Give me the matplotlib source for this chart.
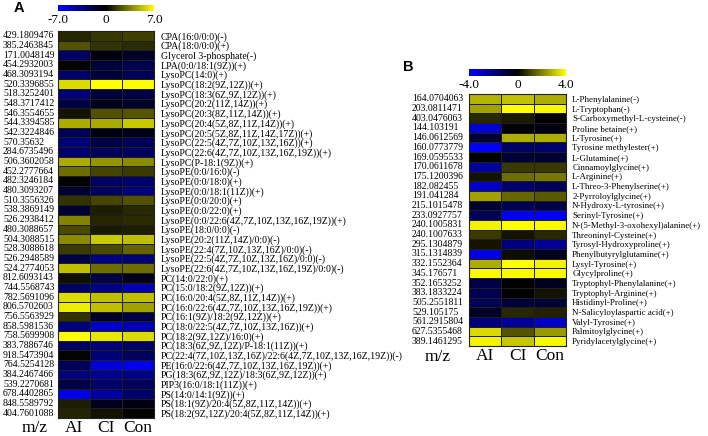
"""Two-panel heatmap of lipid (A) and amino-acid (B) metabolites across AI / CI / Con."""

import numpy as np
import matplotlib
matplotlib.use("Agg")
import matplotlib.pyplot as plt
from matplotlib.colors import LinearSegmentedColormap, Normalize
from matplotlib.cm import ScalarMappable
from matplotlib.transforms import blended_transform_factory

groups = ["AI", "CI", "Con"]

# ---- panel A : lipids ----
mz_a = ["429.1809476", "385.2463845", "171.0048149", "454.2932003", "468.3093194",
        "520.3396855", "518.3252401", "548.3717412", "546.3554655", "544.3394585",
        "542.3224846", "570.35632", "284.6735496", "506.3602058", "452.2777664",
        "482.3246184", "480.3093207", "510.3556326", "538.3869149", "526.2938412",
        "480.3088657", "504.3088515", "528.3088618", "526.2948589", "524.2774053",
        "812.6093143", "744.5568743", "782.5691096", "806.5702603", "756.5563929",
        "858.5981536", "758.5699908", "383.7886746", "918.5473904", "764.5254128",
        "384.2467466", "539.2270681", "678.4402865", "848.5589792", "404.7601088"]
names_a = ["CPA(16:0/0:0)(-)", "CPA(18:0/0:0)(+)", "Glycerol 3-phosphate(-)",
           "LPA(0:0/18:1(9Z))(+)", "LysoPC(14:0)(+)", "LysoPC(18:2(9Z,12Z))(+)",
           "LysoPC(18:3(6Z,9Z,12Z))(+)", "LysoPC(20:2(11Z,14Z))(+)",
           "LysoPC(20:3(8Z,11Z,14Z))(+)", "LysoPC(20:4(5Z,8Z,11Z,14Z))(+)",
           "LysoPC(20:5(5Z,8Z,11Z,14Z,17Z))(+)", "LysoPC(22:5(4Z,7Z,10Z,13Z,16Z))(+)",
           "LysoPC(22:6(4Z,7Z,10Z,13Z,16Z,19Z))(+)", "LysoPC(P-18:1(9Z))(+)",
           "LysoPE(0:0/16:0)(-)", "LysoPE(0:0/18:0)(+)", "LysoPE(0:0/18:1(11Z))(+)",
           "LysoPE(0:0/20:0)(+)", "LysoPE(0:0/22:0)(+)",
           "LysoPE(0:0/22:6(4Z,7Z,10Z,13Z,16Z,19Z))(+)", "LysoPE(18:0/0:0)(-)",
           "LysoPE(20:2(11Z,14Z)/0:0)(-)", "LysoPE(22:4(7Z,10Z,13Z,16Z)/0:0)(-)",
           "LysoPE(22:5(4Z,7Z,10Z,13Z,16Z)/0:0)(-)",
           "LysoPE(22:6(4Z,7Z,10Z,13Z,16Z,19Z)/0:0)(-)", "PC(14:0/22:0)(+)",
           "PC(15:0/18:2(9Z,12Z))(+)", "PC(16:0/20:4(5Z,8Z,11Z,14Z))(+)",
           "PC(16:0/22:6(4Z,7Z,10Z,13Z,16Z,19Z))(+)", "PC(16:1(9Z)/18:2(9Z,12Z))(+)",
           "PC(18:0/22:5(4Z,7Z,10Z,13Z,16Z))(+)", "PC(18:2(9Z,12Z)/16:0)(+)",
           "PC(18:3(6Z,9Z,12Z)/P-18:1(11Z))(+)",
           "PC(22:4(7Z,10Z,13Z,16Z)/22:6(4Z,7Z,10Z,13Z,16Z,19Z))(-)",
           "PE(16:0/22:6(4Z,7Z,10Z,13Z,16Z,19Z))(+)",
           "PG(18:3(6Z,9Z,12Z)/18:3(6Z,9Z,12Z))(+)", "PIP3(16:0/18:1(11Z))(+)",
           "PS(14:0/14:1(9Z))(+)", "PS(18:1(9Z)/20:4(5Z,8Z,11Z,14Z))(+)",
           "PS(18:2(9Z,12Z)/20:4(5Z,8Z,11Z,14Z))(+)"]
ai_a = [1.0, 2.2, -2.7, 0.1, -3.0, 6.0, -3.3, -1.9, 0.5, 4.7,
        -2.5, -3.3, -3.0, 4.7, 3.0, 0.1, -1.4, 1.4, -1.4, 3.6,
        2.0, 3.8, 1.6, -1.9, 5.2, 0.4, -2.7, 6.0, 6.5, 1.4,
        -3.3, 6.9, -2.7, 0.1, -2.5, -3.6, -1.9, -6.3, 0.8, 1.0]
ci_a = [1.5, 1.4, -0.4, -1.6, -1.6, 7.0, -1.6, -0.8, 2.2, 4.6,
        -0.5, -1.9, -2.5, 4.1, 1.9, -2.7, -2.7, 1.9, 0.8, 1.0,
        0.7, 5.5, 2.0, -3.6, 3.0, -1.9, -3.6, 5.2, 5.2, -1.1,
        -5.5, 6.3, -3.3, -3.3, -6.0, -4.1, -3.0, -4.4, -0.8, 0.5]
con_a = [1.7, 1.2, -1.1, -2.2, -2.5, 6.9, -1.9, -1.1, 2.3, 5.5,
         -0.8, -2.5, -2.7, 3.8, 1.6, -3.0, -3.6, 2.2, 1.1, 1.2,
         0.8, 5.2, 2.7, -3.3, 3.0, -0.8, -4.9, 5.2, 4.4, -1.9,
         -4.9, 6.0, -2.7, -2.5, -6.6, -3.8, -2.5, -3.0, -0.4, 0.1]

# ---- panel B : amino acids and derivatives ----
mz_b = ["164.0704063", "203.0811471", "403.0476063", "144.103191", "146.0612569",
        "160.0773779", "169.0595533", "170.0611678", "175.1200396", "182.082455",
        "191.041284", "215.1015478", "233.0927757", "240.1005831", "240.1007633",
        "295.1304879", "315.1314839", "332.1552364", "345.176571", "352.1653252",
        "383.1833224", "505.2551811", "529.105175", "561.2915804", "627.5355468",
        "389.1461295"]
names_b = ["L-Phenylalanine(-)", "L-Tryptophan(-)", "S-Carboxymethyl-L-cysteine(-)",
           "Proline betaine(+)", "L-Tyrosine(+)", "Tyrosine methylester(+)",
           "L-Glutamine(+)", "Cinnamoylglycine(+)", "L-Arginine(+)",
           "L-Threo-3-Phenylserine(+)", "2-Pyrroloylglycine(+)",
           "N-Hydroxy-L-tyrosine(+)", "Serinyl-Tyrosine(+)",
           "N-(5-Methyl-3-oxohexyl)alanine(+)", "Threoninyl-Cysteine(+)",
           "Tyrosyl-Hydroxyproline(+)", "Phenylbutyrylglutamine(+)",
           "Lysyl-Tyrosine(+)", "Glycylproline(+)", "Tryptophyl-Phenylalanine(+)",
           "Tryptophyl-Arginine(+)", "Histidinyl-Proline(+)",
           "N-Salicyloylaspartic acid(+)", "Valyl-Tyrosine(+)",
           "Palmitoylglycine(+)", "Pyridylacetylglycine(+)"]
ai_b = [2.8, 2.5, 0.6, -3.3, -0.8, -3.9, 0.0, -2.5, 0.3, -3.1,
        2.5, -0.8, -1.4, 3.8, 0.9, 0.3, -3.6, 2.7, 3.9, -1.1,
        -1.3, -1.4, -0.6, -1.9, 3.4, 3.8]
ci_b = [3.0, 4.0, 0.4, -0.1, 2.7, -1.6, -0.9, 0.9, 1.7, -1.7,
        1.6, -1.3, -3.8, 4.0, 0.3, -2.0, 0.2, 4.0, 3.9, 0.0,
        0.0, -0.9, 0.6, -2.4, 1.3, 3.1]
con_b = [2.7, 3.9, 0.0, -0.3, 2.7, -1.7, -0.8, 0.9, 1.9, -1.4,
         1.4, -1.1, -3.9, 3.9, 0.6, -2.4, -0.5, 3.8, 3.9, -0.5,
         0.3, -0.9, 0.5, -3.1, 2.4, 3.9]

W, H = 708, 436
cmap = LinearSegmentedColormap.from_list("byk", ["#0000ff", "#000000", "#ffff00"])
SERIF = ["Liberation Serif", "DejaVu Serif"]
fig = plt.figure(figsize=(W / 100, H / 100), dpi=100)


def px_axes(left, top, right, bottom):
    return fig.add_axes([left / W, 1 - bottom / H, (right - left) / W, (bottom - top) / H])


def heat_panel(box, cbar_box, vmax, mz, names, cols, mz_x, mz_label_xy, letter_xy, letter,
               name_pad, name_size):
    data = np.array(cols).T
    ax = px_axes(*box)
    norm = Normalize(-vmax, vmax)
    ax.pcolormesh(data, cmap=cmap, norm=norm, edgecolors="#1e1e1e", linewidth=0.6)
    ax.set_xlim(0, data.shape[1])
    ax.set_ylim(data.shape[0], 0)
    ax.set_xticks(np.arange(len(groups)) + 0.5)
    ax.set_xticklabels(groups, family=SERIF, fontsize=12.5)
    ax.set_yticks(np.arange(len(names)) + 0.5)
    ax.set_yticklabels(names, family=SERIF, fontsize=name_size)
    ax.tick_params(axis="x", length=0, pad=1.5)
    ax.tick_params(axis="y", length=0, pad=name_pad, left=False, labelleft=False,
                   right=False, labelright=True)
    for s in ax.spines.values():
        s.set_linewidth(0.8)
        s.set_color("#222222")

    tr = blended_transform_factory(fig.transFigure, ax.transData)
    for i, m in enumerate(mz):
        ax.text(mz_x / W, i + 0.5, m, transform=tr, ha="left", va="center",
                family=SERIF, fontsize=7)
    fig.text(mz_label_xy[0] / W, 1 - mz_label_xy[1] / H, "m/z", ha="center",
             va="center", family=SERIF, fontsize=12.5)

    cax = px_axes(*cbar_box)
    cb = fig.colorbar(ScalarMappable(norm=norm, cmap=cmap), cax=cax, orientation="horizontal")
    cb.set_ticks([-vmax, 0, vmax])
    cb.set_ticklabels([f"{-vmax:.1f}", "0", f"{vmax:.1f}"])
    cb.outline.set_visible(False)
    cax.tick_params(length=0, pad=2, labelsize=9.5)
    for t in cax.get_xticklabels():
        t.set_family(SERIF)

    fig.text(letter_xy[0] / W, 1 - letter_xy[1] / H, letter, ha="center", va="center",
             family=["Liberation Sans", "DejaVu Sans"], fontweight="bold", fontsize=10.5)


heat_panel((58, 31, 154, 418), (58, 5, 154, 11), 7.0, mz_a, names_a,
           [ai_a, ci_a, con_a], 3, (35, 428), (19, 8.5), "A", 5, 7.1)
heat_panel((469, 94, 566, 346), (469, 69, 566, 76), 4.0, mz_b, names_b,
           [ai_b, ci_b, con_b], 412, (438, 357), (408, 67), "B", 4.5, 6.4)

fig.savefig("out.png", dpi=100)
